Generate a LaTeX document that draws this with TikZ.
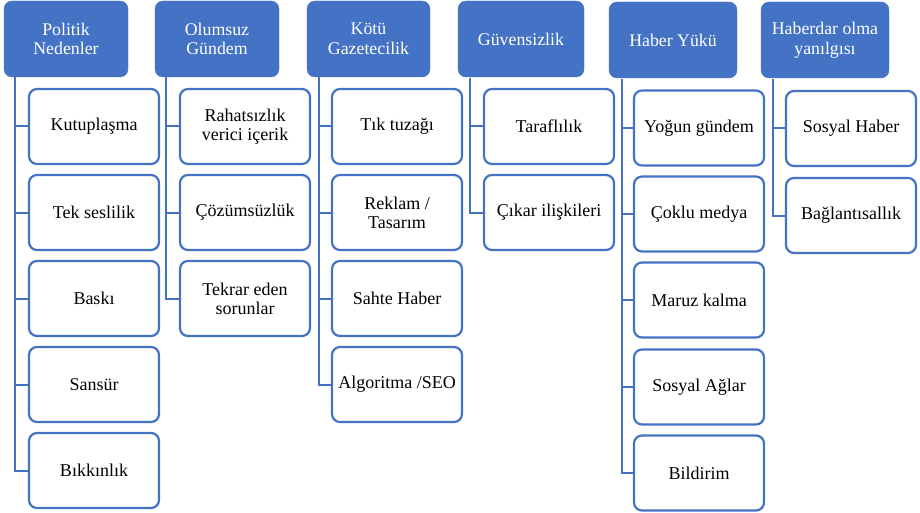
\documentclass[tikz,border=0pt]{standalone}
\usepackage{fontspec}
\setmainfont{Liberation Serif}
\newfontfamily\tnr{Liberation Serif}
\definecolor{hb}{HTML}{4472C4}
\begin{document}
\begin{tikzpicture}[x=1pt,y=-1pt,
 head/.style={fill=hb, draw=hb, rounded corners=8pt, minimum height=76pt, text=white, align=center, font=\tnr\fontsize{17.8}{19.5}\selectfont, inner sep=2pt},
 item/.style={draw=hb, line width=2.2pt, fill=white, rounded corners=8pt, minimum width=130pt, minimum height=75pt, align=center, font=\tnr\fontsize{18}{19}\selectfont, inner sep=2pt},
 conn/.style={draw=hb, line width=2pt}]
\useasboundingbox (0,0) rectangle (920,513);
% headers
\node[head, minimum width=124pt] (h1) at (66,39) {Politik\\Nedenler};
\node[head, minimum width=124pt] (h2) at (217,39) {Olumsuz\\Gündem};
\node[head, minimum width=123pt] (h3) at (368.5,39) {Kötü\\Gazetecilik};
\node[head, minimum width=126pt] (h4) at (521,39) {Güvensizlik};
\node[head, minimum width=128pt] (h5) at (673,40) {Haber Yükü};
\node[head, minimum width=128pt] (h6) at (825,40) {Haberdar olma\\yanılgısı};
% trunk tops
\coordinate (t1) at (15,77);
\coordinate (t2) at (166,77);
\coordinate (t3) at (319,77);
\coordinate (t4) at (470,78);
\coordinate (t5) at (622,79);
\coordinate (t6) at (773,79);
% column 1
\node[item] (c11) at (94,126.5) {Kutuplaşma};
\node[item] (c12) at (94,212.5) {Tek seslilik};
\node[item] (c13) at (94,298.5) {Baskı};
\node[item] (c14) at (94,384.5) {Sansür};
\node[item] (c15) at (94,470.5) {Bıkkınlık};
% column 2
\node[item] (c21) at (245,126.5) {Rahatsızlık\\verici içerik};
\node[item] (c22) at (245,212.5) {Çözümsüzlük};
\node[item] (c23) at (245,298.5) {Tekrar eden\\sorunlar};
% column 3
\node[item] (c31) at (397,126.5) {Tık tuzağı};
\node[item] (c32) at (397,212.5) {Reklam /\\Tasarım};
\node[item] (c33) at (397,298.5) {Sahte Haber};
\node[item] (c34) at (397,384.5) {Algoritma /SEO};
% column 4
\node[item] (c41) at (549,126.5) {Taraflılık};
\node[item] (c42) at (549,212.5) {Çıkar ilişkileri};
% column 5
\node[item] (c51) at (699,128) {Yoğun gündem};
\node[item] (c52) at (699,214) {Çoklu medya};
\node[item] (c53) at (699,300) {Maruz kalma};
\node[item] (c54) at (699,387) {Sosyal Ağlar};
\node[item] (c55) at (699,473) {Bildirim};
% column 6
\node[item] (c61) at (851,128.5) {Sosyal Haber};
\node[item] (c62) at (851,215.5) {Bağlantısallık};
% connectors
\foreach \c in {c11,c12,c13,c14,c15} \draw[conn] (t1) |- (\c.west);
\foreach \c in {c21,c22,c23} \draw[conn] (t2) |- (\c.west);
\foreach \c in {c31,c32,c33,c34} \draw[conn] (t3) |- (\c.west);
\foreach \c in {c41,c42} \draw[conn] (t4) |- (\c.west);
\foreach \c in {c51,c52,c53,c54,c55} \draw[conn] (t5) |- (\c.west);
\foreach \c in {c61,c62} \draw[conn] (t6) |- (\c.west);
\end{tikzpicture}
\end{document}
